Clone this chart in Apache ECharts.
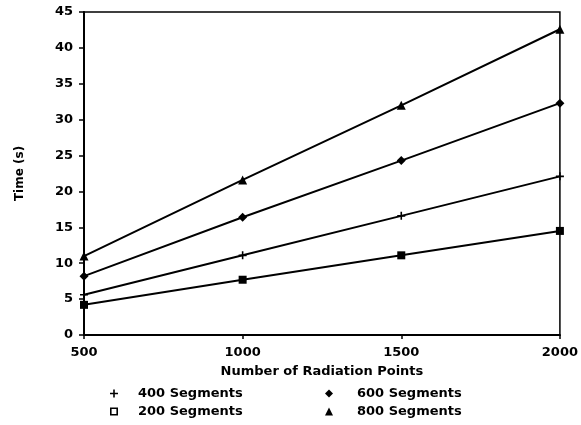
<!DOCTYPE html>
<html><head><meta charset="utf-8">
<script src="https://cdn.jsdelivr.net/npm/echarts@6/dist/echarts.min.js"></script>
<style>html,body{margin:0;padding:0;background:#fff}#c{width:581px;height:425px}</style>
</head><body><div id="c"></div>
<script>
const xValues = [500, 1000, 1500, 2000];
const seg200 = [4.2, 7.7, 11.1, 14.5];
const seg400 = [5.6, 11.1, 16.6, 22.1];
const seg600 = [8.2, 16.4, 24.3, 32.3];
const seg800 = [11.0, 21.6, 32.0, 42.6];
const yTicks = [0, 5, 10, 15, 20, 25, 30, 35, 40, 45];

const font = 'DejaVu Sans, Liberation Sans, sans-serif';
const plusPath = 'path://M4,0H6V4H10V6H6V10H4V6H0V4H4Z';
const hollowSq = 'path://M0,0H10V10H0Z M2,2V8H8V2Z';
const pair = v => xValues.map((x, i) => [x, v[i]]);

function mk(name, data, symbol, size) {
  return {
    name, type: 'line', data: pair(data), symbol, symbolSize: size,
    lineStyle: { color: '#000', width: 2 },
    itemStyle: { color: '#000' }, color: '#000',
    animation: false
  };
}
const txt = { color: '#000', fontFamily: font, fontWeight: 'bold', fontSize: 13 };
function leg(name, icon, left, top, pad) {
  return { left, top, itemWidth: 8, itemHeight: 8, itemGap: 0,
    textStyle: Object.assign({}, txt, { padding: [0, 0, 0, pad] }),
    data: [{ name, icon }] };
}

const chart = echarts.init(document.getElementById('c'));
chart.setOption({
  backgroundColor: '#fff',
  animation: false,
  grid: { left: 84, right: 16, top: 12, bottom: 90, show: true, borderColor: '#000', borderWidth: 1.5 },
  xAxis: {
    type: 'value', min: 500, max: 2000, interval: 500,
    name: 'Number of Radiation Points', nameLocation: 'middle', nameGap: 30,
    nameTextStyle: txt,
    axisLine: { lineStyle: { color: '#000', width: 2 } },
    axisTick: { show: true, length: 4, lineStyle: { color: '#000', width: 1.5 } },
    axisLabel: Object.assign({}, txt, { margin: 11, formatter: v => String(v) }),
    splitLine: { show: false }
  },
  yAxis: {
    type: 'value', min: 0, max: 45, interval: 5,
    name: 'Time (s)', nameLocation: 'middle', nameGap: 58,
    nameTextStyle: Object.assign({}, txt, { fontSize: 12 }),
    axisLine: { show: true, lineStyle: { color: '#000', width: 2 } },
    axisTick: { show: true, length: 5, lineStyle: { color: '#000', width: 1.5 } },
    axisLabel: Object.assign({}, txt, { margin: 11,
      formatter: v => yTicks.includes(v) ? String(v) : '' }),
    splitLine: { show: false }
  },
  legend: [
    leg('400 Segments', plusPath, 105, 382, 15),
    leg('200 Segments', hollowSq, 105, 400, 15),
    leg('600 Segments', 'diamond', 320, 382, 19),
    leg('800 Segments', 'triangle', 320, 400, 19)
  ],
  series: [
    mk('200 Segments', seg200, 'rect', 8),
    mk('400 Segments', seg400, plusPath, 8),
    mk('600 Segments', seg600, 'diamond', 9),
    mk('800 Segments', seg800, 'triangle', 9)
  ]
});
</script></body></html>
